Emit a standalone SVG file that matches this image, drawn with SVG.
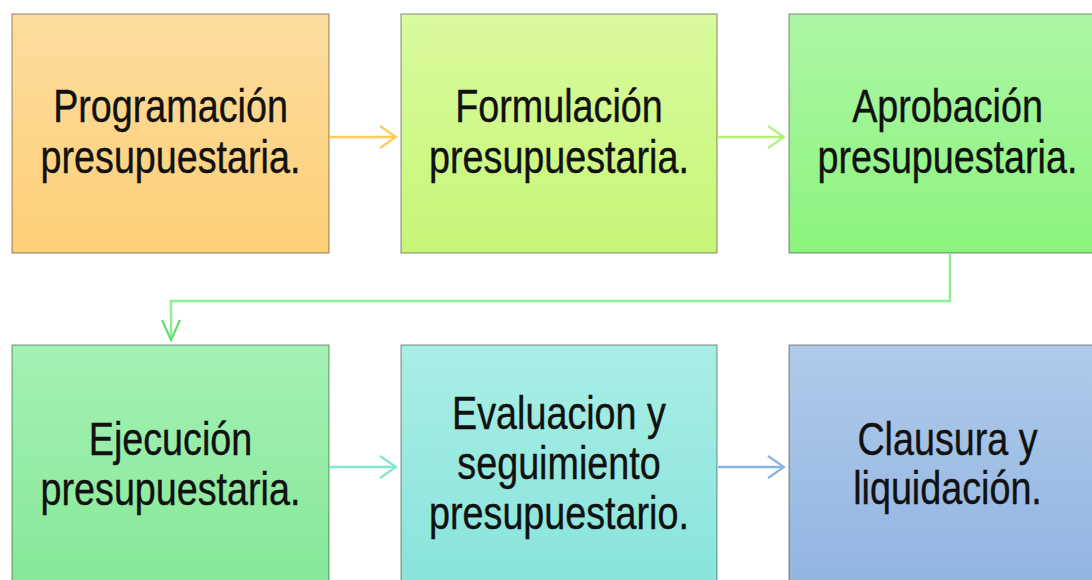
<svg xmlns="http://www.w3.org/2000/svg" width="1092" height="580" viewBox="0 0 1092 580">
<defs>
<linearGradient id="g1" x1="0" y1="0" x2="0" y2="1"><stop offset="0" stop-color="#FDDC9E"/><stop offset="1" stop-color="#FDD078"/></linearGradient>
<linearGradient id="g2" x1="0" y1="0" x2="0" y2="1"><stop offset="0" stop-color="#DAFA9E"/><stop offset="1" stop-color="#C6F677"/></linearGradient>
<linearGradient id="g3" x1="0" y1="0" x2="0" y2="1"><stop offset="0" stop-color="#AEF6A6"/><stop offset="1" stop-color="#8BF47C"/></linearGradient>
<linearGradient id="g4" x1="0" y1="0" x2="0" y2="1"><stop offset="0" stop-color="#A4F1B4"/><stop offset="1" stop-color="#86E898"/></linearGradient>
<linearGradient id="g5" x1="0" y1="0" x2="0" y2="1"><stop offset="0" stop-color="#AAEEE6"/><stop offset="1" stop-color="#88E4DA"/></linearGradient>
<linearGradient id="g6" x1="0" y1="0" x2="0" y2="1"><stop offset="0" stop-color="#B0CAEB"/><stop offset="1" stop-color="#92B5E1"/></linearGradient>
<marker id="a1" viewBox="-2 -2 20 26" refX="16" refY="11" markerWidth="20" markerHeight="26" markerUnits="userSpaceOnUse" orient="auto"><path d="M0,0 L16,11 L0,22" fill="none" stroke="#FDCB5C" stroke-width="2.2"/></marker>
<marker id="a2" viewBox="-2 -2 20 26" refX="16" refY="11" markerWidth="20" markerHeight="26" markerUnits="userSpaceOnUse" orient="auto"><path d="M0,0 L16,11 L0,22" fill="none" stroke="#B2F27A" stroke-width="2.2"/></marker>
<marker id="a3" viewBox="-2 -2 24 22" refX="20" refY="9" markerWidth="24" markerHeight="22" markerUnits="userSpaceOnUse" orient="auto"><path d="M0,0 L20,9 L0,18" fill="none" stroke="#5EDF6E" stroke-width="2.2"/></marker>
<marker id="a4" viewBox="-2 -2 20 26" refX="16" refY="11" markerWidth="20" markerHeight="26" markerUnits="userSpaceOnUse" orient="auto"><path d="M0,0 L16,11 L0,22" fill="none" stroke="#7FE6D2" stroke-width="2.2"/></marker>
<marker id="a5" viewBox="-2 -2 20 26" refX="16" refY="11" markerWidth="20" markerHeight="26" markerUnits="userSpaceOnUse" orient="auto"><path d="M0,0 L16,11 L0,22" fill="none" stroke="#8AB3E4" stroke-width="2.2"/></marker>
</defs>
<style>
.box{stroke:#000;stroke-opacity:0.38;stroke-width:1.2}
.t{font-family:"Liberation Sans",Arial,sans-serif;font-size:46px;fill:#111;stroke:#111;stroke-width:0.4;text-anchor:middle}
.c{fill:none;stroke-width:2.4}
</style>
<rect width="1092" height="580" fill="#fff"/>
<g id="connectors">
<line class="c" x1="330" y1="137" x2="396" y2="137" stroke="#FDCB5C" marker-end="url(#a1)"/>
<line class="c" x1="718" y1="137" x2="784" y2="137" stroke="#B2F27A" marker-end="url(#a2)"/>
<polyline class="c" points="950,254 950,301 171,301 171,340" stroke="#8CEF92" marker-end="url(#a3)"/>
<line class="c" x1="330" y1="467" x2="396" y2="467" stroke="#7FE6D2" marker-end="url(#a4)"/>
<line class="c" x1="718" y1="467" x2="784" y2="467" stroke="#8AB3E4" marker-end="url(#a5)"/>
</g>
<g id="n1"><rect class="box" x="12" y="14" width="317" height="239" fill="url(#g1)"/>
<text class="t" transform="translate(170.5,0) scale(0.82,1)"><tspan x="0" y="122">Programación</tspan><tspan x="0" y="173">presupuestaria.</tspan></text></g>
<g id="n2"><rect class="box" x="401" y="14" width="316" height="239" fill="url(#g2)"/>
<text class="t" transform="translate(559,0) scale(0.82,1)"><tspan x="0" y="122">Formulación</tspan><tspan x="0" y="173">presupuestaria.</tspan></text></g>
<g id="n3"><rect class="box" x="789" y="14" width="317" height="239" fill="url(#g3)"/>
<text class="t" transform="translate(947.5,0) scale(0.82,1)"><tspan x="0" y="122">Aprobación</tspan><tspan x="0" y="173">presupuestaria.</tspan></text></g>
<g id="n4"><rect class="box" x="12" y="345" width="317" height="240" fill="url(#g4)"/>
<text class="t" transform="translate(170.5,0) scale(0.82,1)"><tspan x="0" y="455">Ejecución</tspan><tspan x="0" y="505">presupuestaria.</tspan></text></g>
<g id="n5"><rect class="box" x="401" y="345" width="316" height="240" fill="url(#g5)"/>
<text class="t" transform="translate(559,0) scale(0.82,1)"><tspan x="0" y="429">Evaluacion y</tspan><tspan x="0" y="479">seguimiento</tspan><tspan x="0" y="529">presupuestario.</tspan></text></g>
<g id="n6"><rect class="box" x="789" y="345" width="317" height="240" fill="url(#g6)"/>
<text class="t" transform="translate(947.5,0) scale(0.82,1)"><tspan x="0" y="455">Clausura y</tspan><tspan x="0" y="504">liquidación.</tspan></text></g>
</svg>
